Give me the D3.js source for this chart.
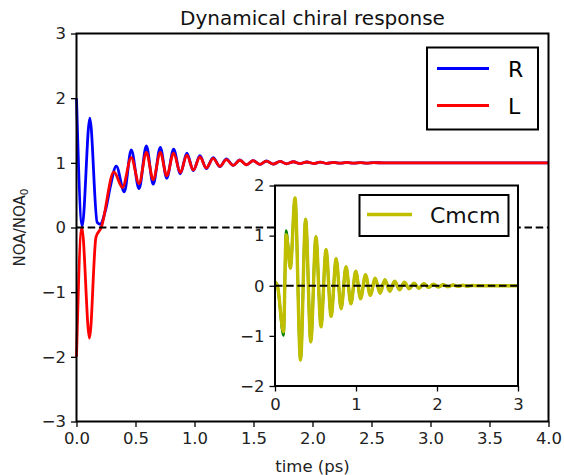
<!doctype html>
<html lang="en">
    <head>
        <meta charset="utf-8">
        <title>Dynamical chiral response</title>
        <script type="text/javascript" src="https://cdn.jsdelivr.net/npm/d3@7"></script>
        <style>
            body { margin: 0; background: #fff; }
            svg { font-family: "DejaVu Sans", sans-serif; }
            .axis path, .axis line { stroke: #000; }
            .axis text { font-size: 16.5px; fill: #222; font-family: "DejaVu Sans", sans-serif; }
        </style>
    </head>
    <body>
        <script type="text/javascript">
            // R / L chiral response, knots: [time (ps), NOA/NOA0]
            var seriesR = [
                [0, 2.0], [0.048, 0.02], [0.113, 1.69], [0.175, 0.08], [0.2, 0.05],
                [0.25, 0.3], [0.29, 0.66], [0.337, 0.95], [0.405, 0.55], [0.464, 1.2],
                [0.53, 0.6], [0.592, 1.26], [0.65, 0.67], [0.71, 1.24], [0.765, 0.76],
                [0.823, 1.21], [0.88, 0.83], [0.935, 1.15], [0.99, 0.88], [1.046, 1.11],
                [1.10, 0.91], [1.158, 1.08], [1.215, 0.94], [1.27, 1.06], [1.328, 0.96],
                [1.384, 1.045], [1.44, 0.97], [1.497, 1.035], [1.555, 0.975], [1.61, 1.028],
                [1.668, 0.98], [1.725, 1.022], [1.78, 0.985], [1.838, 1.017], [1.895, 0.988],
                [1.952, 1.013], [2.01, 0.99], [2.065, 1.01], [2.12, 0.992], [2.18, 1.008],
                [2.235, 0.994], [2.29, 1.006], [2.35, 0.996], [2.405, 1.004], [2.46, 0.997],
                [2.52, 1.003], [2.6, 1.0], [4.0, 1.0]
            ];
            var seriesL = [
                [0, -2.0], [0.045, 0.0], [0.11, -1.71], [0.165, -0.15], [0.21, 0.0],
                [0.317, 0.86], [0.39, 0.62], [0.464, 1.08], [0.53, 0.68], [0.592, 1.16],
                [0.65, 0.74], [0.71, 1.16], [0.765, 0.8], [0.823, 1.15], [0.88, 0.85],
                [0.935, 1.12], [0.99, 0.89], [1.046, 1.09], [1.10, 0.92], [1.158, 1.07],
                [1.215, 0.945], [1.27, 1.05], [1.328, 0.96], [1.384, 1.04], [1.44, 0.97],
                [1.497, 1.033], [1.555, 0.976], [1.61, 1.027], [1.668, 0.98], [1.725, 1.022],
                [1.78, 0.985], [1.838, 1.017], [1.895, 0.988], [1.952, 1.013], [2.01, 0.99],
                [2.065, 1.01], [2.12, 0.992], [2.18, 1.008], [2.235, 0.994], [2.29, 1.006],
                [2.35, 0.996], [2.405, 1.004], [2.46, 0.997], [2.52, 1.003], [2.6, 1.0],
                [4.0, 1.0]
            ];
            // inset: Cmcm (yellow) and the green line under it
            var seriesCmcm = [
                [0, 0.08], [0.03, 0.0], [0.105, -0.92], [0.138, 1.02], [0.19, 0.35],
                [0.247, 1.75], [0.315, -1.48], [0.378, 1.33], [0.442, -1.12], [0.505, 0.98],
                [0.568, -0.82], [0.63, 0.72], [0.693, -0.61], [0.755, 0.54], [0.816, -0.46],
                [0.877, 0.38], [0.937, -0.36], [0.997, 0.29], [1.057, -0.26], [1.117, 0.22],
                [1.177, -0.19], [1.237, 0.15], [1.297, -0.15], [1.357, 0.12], [1.417, -0.11],
                [1.477, 0.09], [1.537, -0.08], [1.597, 0.07], [1.657, -0.06], [1.717, 0.05],
                [1.777, -0.05], [1.837, 0.04], [1.897, -0.03], [1.957, 0.03], [2.017, -0.025],
                [2.077, 0.02], [2.137, -0.02], [2.197, 0.015], [2.257, -0.012], [2.317, 0.01],
                [2.377, -0.008], [2.437, 0.006], [2.5, 0], [3.0, 0]
            ];
            var greenStart = [
                [0, 0.08], [0.03, 0.0], [0.105, -0.99], [0.138, 1.1], [0.19, 0.36]
            ];
            var seriesGreen = greenStart.concat(seriesCmcm.slice(5));

            var xTicks = [0, 0.5, 1, 1.5, 2, 2.5, 3, 3.5, 4];
            var yTicks = [-3, -2, -1, 0, 1, 2, 3];
            var insetXTicks = [0, 1, 2, 3];
            var insetYTicks = [-2, -1, 0, 1, 2];
            var legendMain = ["R", "L"];
            var legendInset = ["Cmcm"];

            var W = 564, H = 475;
            var box = {left: 76.5, right: 548.5, top: 33.5, bottom: 421.5};
            var ibox = {left: 275, right: 518, top: 185.5, bottom: 386};
            var minus = s => String(s).replace("-", "\u2212");

            var svg = d3.select("body")
                        .append("svg")
                        .attr("width", W)
                        .attr("height", H);

            var xScale = d3.scaleLinear().domain([0, 4]).range([box.left, box.right]);
            var yScale = d3.scaleLinear().domain([-3, 3]).range([box.bottom, box.top]);

            var line = d3.line()
                         .curve(d3.curveMonotoneX)
                         .x(d => xScale(d[0]))
                         .y(d => yScale(d[1]));

            svg.append("path")
               .datum(seriesR)
               .attr("d", line)
               .attr("fill", "none")
               .attr("stroke", "#0000ff")
               .attr("stroke-width", 2.8);

            svg.append("path")
               .datum(seriesL)
               .attr("d", line)
               .attr("fill", "none")
               .attr("stroke", "#ff0000")
               .attr("stroke-width", 2.8);

            // zero line
            svg.append("line")
               .attr("x1", xScale(0)).attr("x2", xScale(4))
               .attr("y1", yScale(0)).attr("y2", yScale(0))
               .attr("stroke", "#000")
               .attr("stroke-width", 2.1)
               .attr("stroke-dasharray", "7.5,3.7");

            var xAxis = d3.axisBottom(xScale).tickValues(xTicks).tickSize(5.5).tickPadding(5)
                          .tickFormat(d3.format(".1f"));
            var yAxis = d3.axisLeft(yScale).tickValues(yTicks).tickSize(5.5).tickPadding(5)
                          .tickFormat(minus);

            svg.append("g")
               .attr("class", "axis")
               .attr("transform", "translate(0, " + box.bottom + ")")
               .call(xAxis);
            svg.append("g")
               .attr("class", "axis")
               .attr("transform", "translate(" + box.left + ", 0)")
               .call(yAxis);
            svg.selectAll(".axis .domain").remove();
            svg.selectAll(".axis line").attr("stroke-width", 1.3);

            svg.append("rect")
               .attr("x", box.left).attr("y", box.top)
               .attr("width", box.right - box.left).attr("height", box.bottom - box.top)
               .attr("fill", "none").attr("stroke", "#000").attr("stroke-width", 2);

            svg.append("text")
               .attr("x", (box.left + box.right) / 2).attr("y", 25)
               .attr("text-anchor", "middle")
               .attr("font-size", 20)
               .attr("fill", "#111")
               .text("Dynamical chiral response");

            svg.append("text")
               .attr("x", (box.left + box.right) / 2).attr("y", 472)
               .attr("text-anchor", "middle")
               .attr("font-size", 16.5)
               .attr("fill", "#222")
               .text("time (ps)");

            var ylab = svg.append("text")
               .attr("transform", "translate(25, " + yScale(0) + ") rotate(-90)")
               .attr("text-anchor", "middle")
               .attr("font-size", 15)
               .attr("fill", "#222");
            ylab.append("tspan").text("NOA/NOA");
            ylab.append("tspan").attr("font-size", 10.5).attr("dy", 3).text("0");

            // main legend
            var legColors = ["#0000ff", "#ff0000"];
            svg.append("rect")
               .attr("x", 427).attr("y", 47.5).attr("width", 111).attr("height", 82)
               .attr("fill", "#fff").attr("stroke", "#000").attr("stroke-width", 2);
            legendMain.forEach(function(name, i) {
                var yy = 68.5 + i * 37;
                svg.append("line")
                   .attr("x1", 437).attr("x2", 489).attr("y1", yy).attr("y2", yy)
                   .attr("stroke", legColors[i]).attr("stroke-width", 2.8);
                svg.append("text")
                   .attr("x", 508).attr("y", yy + 8)
                   .attr("font-size", 22).attr("fill", "#000")
                   .text(name);
            });

            // inset
            var ix = d3.scaleLinear().domain([0, 3]).range([ibox.left, ibox.right]);
            var iy = d3.scaleLinear().domain([-2, 2]).range([ibox.bottom, ibox.top]);
            var iline = d3.line()
                          .curve(d3.curveMonotoneX)
                          .x(d => ix(d[0]))
                          .y(d => iy(d[1]));

            svg.append("rect")
               .attr("x", ibox.left).attr("y", ibox.top)
               .attr("width", ibox.right - ibox.left).attr("height", ibox.bottom - ibox.top)
               .attr("fill", "#fff");

            svg.append("path")
               .datum(seriesGreen)
               .attr("d", iline)
               .attr("fill", "none")
               .attr("stroke", "#008000")
               .attr("stroke-width", 2.6);
            svg.append("path")
               .datum(seriesCmcm)
               .attr("d", iline)
               .attr("fill", "none")
               .attr("stroke", "#bfbf00")
               .attr("stroke-width", 3.4);

            svg.append("line")
               .attr("x1", ix(0)).attr("x2", ix(3))
               .attr("y1", iy(0)).attr("y2", iy(0))
               .attr("stroke", "#000")
               .attr("stroke-width", 2.1)
               .attr("stroke-dasharray", "7.5,3.7");

            var ixAxis = d3.axisBottom(ix).tickValues(insetXTicks).tickSize(5.5).tickPadding(7)
                           .tickFormat(d3.format("d"));
            var iyAxis = d3.axisLeft(iy).tickValues(insetYTicks).tickSize(5.5).tickPadding(5)
                           .tickFormat(minus);
            svg.append("g")
               .attr("class", "axis inset")
               .attr("transform", "translate(0, " + ibox.bottom + ")")
               .call(ixAxis);
            svg.append("g")
               .attr("class", "axis inset")
               .attr("transform", "translate(" + ibox.left + ", 0)")
               .call(iyAxis);
            svg.selectAll(".inset .domain").remove();
            svg.selectAll(".inset line").attr("stroke-width", 1.3);

            svg.append("rect")
               .attr("x", ibox.left).attr("y", ibox.top)
               .attr("width", ibox.right - ibox.left).attr("height", ibox.bottom - ibox.top)
               .attr("fill", "none").attr("stroke", "#000").attr("stroke-width", 2);

            svg.append("rect")
               .attr("x", 359.5).attr("y", 195).attr("width", 149).attr("height", 41)
               .attr("fill", "#fff").attr("stroke", "#000").attr("stroke-width", 2);
            svg.append("line")
               .attr("x1", 367).attr("x2", 412).attr("y1", 214.5).attr("y2", 214.5)
               .attr("stroke", "#bfbf00").attr("stroke-width", 3.4);
            svg.append("text")
               .attr("x", 430).attr("y", 222.5)
               .attr("font-size", 22).attr("fill", "#111")
               .text(legendInset[0]);
        </script>
    </body>
</html>
